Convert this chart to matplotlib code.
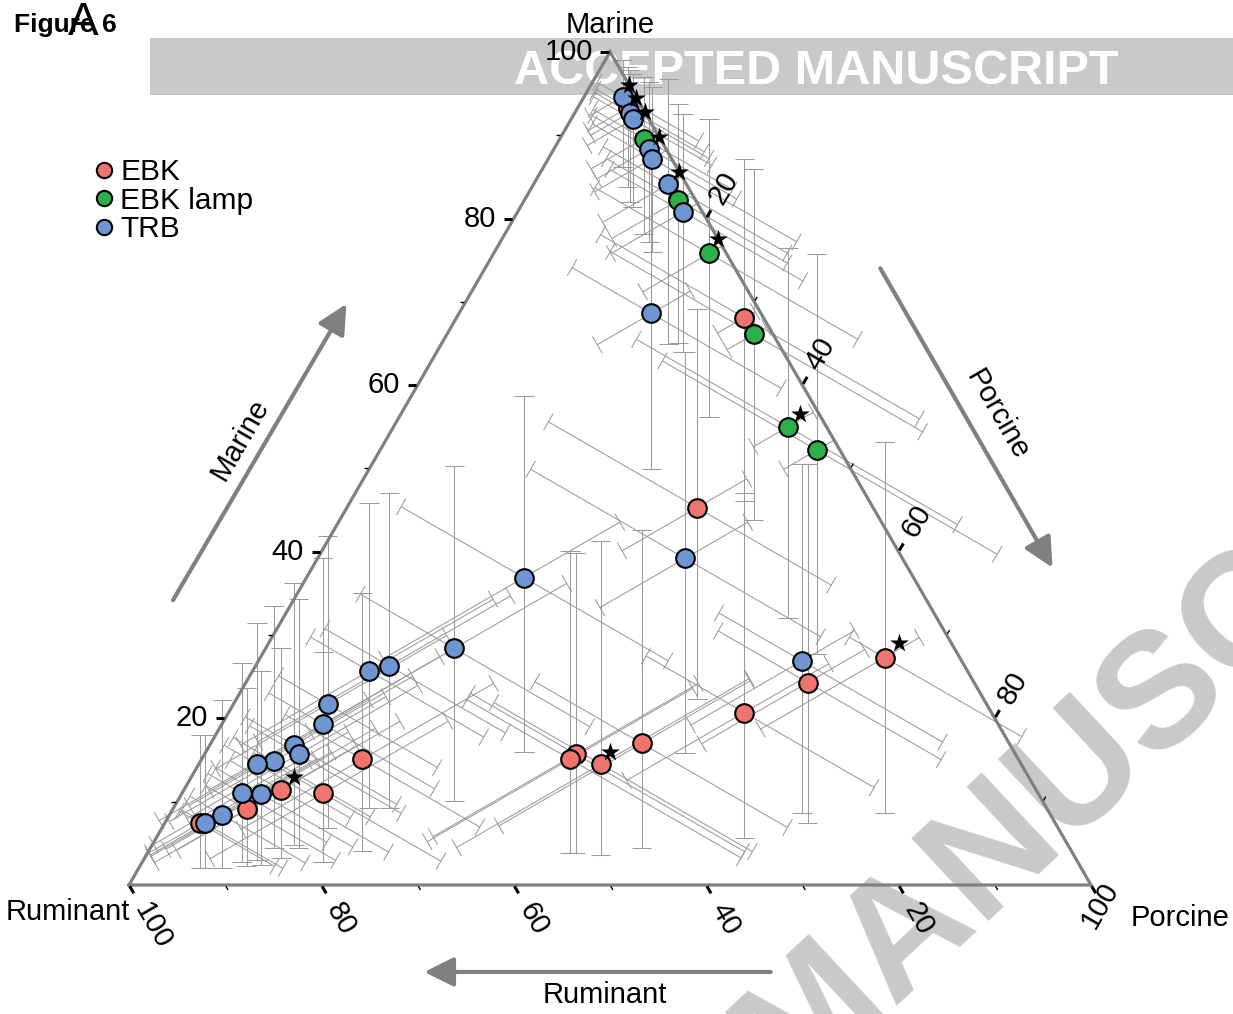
import numpy as np
import matplotlib
matplotlib.use("Agg")
import matplotlib.pyplot as plt
from matplotlib.patches import Rectangle
from matplotlib.lines import Line2D
import matplotlib.transforms as mtrans

plt.rcParams['font.family'] = ['Liberation Sans', 'DejaVu Sans']

# ---------------- data (percent) ----------------
group = (['EBK'] * 15) + (['EBK lamp'] * 6) + (['TRB'] * 24)

marine = [93.3, 68.1, 45.3, 15.7, 15.1, 14.5, 17.0, 20.7, 24.3, 27.3, 15.1, 11.4, 11.0, 9.1, 7.4,
          89.6, 82.2, 75.8, 66.1, 55.0, 52.2,
          94.6, 92.7, 91.9, 88.4, 87.2, 84.1, 80.8, 68.6, 39.2, 36.9, 28.4, 26.9,
          25.7, 26.3, 21.7, 19.3, 16.8, 15.7, 14.85, 14.5, 11.0, 10.9, 8.4, 7.4]
porcine = [5.2, 29.9, 36.4, 38.6, 38.3, 41.8, 44.8, 53.6, 58.4, 64.9, 16.7, 10.1, 14.7, 7.7, 3.7,
           8.7, 16.0, 22.4, 31.9, 41.0, 45.4,
           4.0, 5.7, 6.4, 9.9, 10.8, 14.0, 17.2, 20.0, 38.2, 22.6, 19.6, 56.5,
           12.1, 13.9, 9.8, 10.5, 8.75, 9.8, 7.65, 6.05, 6.25, 8.3, 5.5, 4.2]

marine_lo = [83.8, 46.1, 22.3, 3.8, 3.8, 3.6, 4.4, 5.7, 7.5, 8.7, 4.1, 3.2, 2.8, 2.3, 2.0,
             78.2, 65.1, 56.2, 43.8, 32.1, 27.7,
             86.2, 82.0, 81.4, 77.2, 76.0, 64.9, 64.0, 49.9, 15.8, 16.0, 10.1, 8.6,
             9.2, 9.2, 6.9, 2.8, 4.8, 4.5, 4.4, 3.0, 2.8, 2.4, 2.0, 2.0]
marine_hi = [98.2, 87.2, 69.1, 39.8, 40.1, 41.3, 42.6, 47.0, 50.5, 53.2, 35.1, 28.4, 28.0, 23.6, 18.0,
             97.0, 93.7, 91.9, 85.9, 76.4, 75.7,
             99.0, 97.8, 97.4, 96.4, 95.8, 96.8, 92.6, 88.6, 64.0, 58.7, 50.3, 50.5,
             45.9, 47.1, 41.9, 39.3, 36.2, 34.3, 33.5, 31.4, 26.6, 25.7, 22.2, 18.0]
porcine_lo = [0.8, 10.0, 15.8, 24.0, 24.0, 27.0, 30.0, 40.0, 46.0, 60.0, 6.0, 3.0, 5.0, 2.0, 0.8,
              1.7, 6.0, 6.6, 12.0, 20.0, 24.0,
              0.5, 0.8, 1.0, 2.0, 2.5, 5.0, 7.0, 9.0, 16.8, 5.6, 6.6, 45.0,
              4.0, 5.0, 3.0, 3.0, 2.0, 3.0, 2.0, 1.5, 1.5, 2.0, 1.0, 1.0]
porcine_hi = [15.8, 54.2, 55.0, 62.0, 62.0, 62.8, 65.0, 71.6, 76.9, 83.9, 33.0, 25.0, 31.0, 20.0, 14.0,
              21.0, 31.1, 43.0, 55.3, 64.5, 70.4,
              14.6, 16.7, 17.4, 22.0, 30.8, 30.5, 33.8, 38.0, 57.0, 42.6, 38.4, 76.0,
              28.0, 30.0, 25.0, 26.0, 23.0, 24.0, 21.0, 19.0, 18.0, 21.0, 17.0, 15.0]
ruminant_lo = [0.0, 0.5, 11.4, 28.7, 29.6, 23.1, 23.2, 14.0, 9.4, 3.0, 50.0, 62.0, 57.0, 68.0, 74.0,
               0.0, 0.0, 0.0, 0.3, 0.5, 0.0,
               0.0, 0.0, 0.0, 0.0, 0.0, 0.0, 0.0, 6.0, 13.9, 27.2, 36.4, 9.3,
               45.0, 43.0, 52.0, 54.0, 58.0, 58.0, 62.0, 64.0, 68.0, 65.0, 71.0, 73.0]
ruminant_hi = [7.0, 5.7, 28.7, 65.5, 66.4, 63.7, 58.0, 42.0, 32.0, 25.0, 85.0, 93.0, 90.0, 96.0, 96.0,
               9.0, 11.0, 11.0, 5.7, 8.8, 7.0,
               6.0, 7.0, 8.0, 9.0, 10.0, 11.0, 12.0, 18.9, 34.4, 60.0, 72.0, 32.0,
               80.0, 78.0, 84.0, 86.0, 89.0, 90.0, 92.0, 93.0, 95.0, 94.0, 96.0, 96.0]

star_marine = [96.0, 94.5, 92.8, 89.8, 85.6, 77.6, 56.5, 29.0, 16.0, 13.0]
star_porcine = [4.0, 5.5, 7.2, 10.2, 14.4, 22.4, 41.5, 65.5, 42.0, 10.6]

series_names = ['EBK', 'EBK lamp', 'TRB']
series_colors = ['#F0756E', '#2BB14A', '#6E96D2']
major_ticks = [20, 40, 60, 80, 100]
minor_ticks = [10, 30, 50, 70, 90]

# ---------------- figure ----------------
W, H, DPI = 1233, 1014, 100
fig = plt.figure(figsize=(W / DPI, H / DPI), dpi=DPI)
ax = fig.add_axes([0, 0, 1, 1])
S = 9.62  # pixels per percent unit
OX, OY = 129, 885
ax.set_xlim(-OX / S, (W - OX) / S)
ax.set_ylim(-(H - OY) / S, OY / S)
ax.axis('off')

SQ = np.sqrt(3) / 2


def tern(m, p):
    m = np.asarray(m, float)
    p = np.asarray(p, float)
    return p + m / 2, m * SQ


def along(m0, p0, comp, v):
    r0 = 100 - m0 - p0
    if comp == 'm':
        d = v - m0
        m, p = v, p0 - d / 2
    elif comp == 'p':
        d = v - p0
        m, p = m0 - d / 2, v
    else:
        d = v - r0
        m, p = m0 - d / 2, p0 - d / 2
    return tern(m, p)


# background watermark elements
fig.patches.append(Rectangle((150 / W, 1 - 95 / H), (W - 150) / W, 57 / H,
                             transform=fig.transFigure, facecolor='#C8C9CB',
                             edgecolor='none', zorder=-2))
fig.text(816 / W, 1 - 71 / H, 'ACCEPTED MANUSCRIPT', color='white', fontsize=35,
         fontweight='bold', ha='center', va='center', zorder=-1)
fig.text(792 / W, 1 - 1095 / H, 'MANUSCRIPT', color='#C8C9CB', fontsize=118,
         fontweight='bold', rotation=43, rotation_mode='anchor', ha='left',
         va='baseline', zorder=-1)
fig.text(14 / W, 1 - 25 / H, 'Figure 6', fontsize=19, fontweight='bold',
         ha='left', va='center')
fig.text(83 / W, 1 - 23 / H, 'A', fontsize=33, ha='center', va='center')

# error bars
bar_kw = dict(color='#9B9B9B', lw=0.75, zorder=1, solid_capstyle='butt')
CAP = 1.0
n = len(marine)
for i in range(n):
    m0, p0 = marine[i], porcine[i]
    for comp, lo, hi in (('m', marine_lo[i], marine_hi[i]),
                         ('p', porcine_lo[i], porcine_hi[i]),
                         ('r', ruminant_lo[i], ruminant_hi[i])):
        x1, y1 = along(m0, p0, comp, lo)
        x2, y2 = along(m0, p0, comp, hi)
        ax.plot([x1, x2], [y1, y2], **bar_kw)
        L = np.hypot(x2 - x1, y2 - y1)
        if L == 0:
            continue
        nx, ny = -(y2 - y1) / L, (x2 - x1) / L
        for xe, ye in ((x1, y1), (x2, y2)):
            ax.plot([xe - nx * CAP, xe + nx * CAP], [ye - ny * CAP, ye + ny * CAP], **bar_kw)

# triangle
tx, ty = tern([0, 0, 100, 0], [0, 100, 0, 0])
ax.plot(tx, ty, color='#808080', lw=2.3, zorder=2, solid_joinstyle='miter')

# ticks & labels
tick_kw = dict(color='black', lw=2.2, zorder=3, solid_capstyle='butt')
minor_kw = dict(color='black', lw=1.0, zorder=3, solid_capstyle='butt')
FS_T = 21
# marine (left edge), ticks horizontal to the left
for v in major_ticks:
    x, y = tern(v, 0)
    ax.plot([x - 1.0, x - 0.15], [y, y], **tick_kw)
    ax.text(x - 1.8, y, str(v), ha='right', va='center', fontsize=FS_T)
for v in minor_ticks:
    x, y = tern(v, 0)
    ax.plot([x - 0.6, x - 0.15], [y, y], **minor_kw)
# porcine (right edge), ticks up-right
ux, uy = 0.5, SQ
for v in major_ticks:
    x, y = tern(100 - v, v)
    if v < 100:
        ax.plot([x + 0.15 * ux, x + 1.0 * ux], [y + 0.15 * uy, y + 1.0 * uy], **tick_kw)
        ax.text(x + 2.0 * ux, y + 2.0 * uy, str(v), rotation=60, rotation_mode='anchor',
                ha='left', va='center', fontsize=FS_T)
    else:
        # the 100 label of the porcine axis sits just below its vertex
        ax.text(x + 0.9, y - 2.1, str(v), rotation=60, rotation_mode='anchor',
                ha='center', va='center', fontsize=FS_T)
for v in minor_ticks:
    x, y = tern(100 - v, v)
    ax.plot([x + 0.15 * ux, x + 0.6 * ux], [y + 0.15 * uy, y + 0.6 * uy], **minor_kw)
# ruminant (bottom edge), ticks down-right
ux, uy = 0.5, -SQ
for v in [0] + major_ticks:
    x, y = tern(0, 100 - v)
    ax.plot([x + 0.15 * ux, x + 1.0 * ux], [y + 0.15 * uy, y + 1.0 * uy], **tick_kw)
    if v > 0:
        ax.text(x + 2.4 * ux, y + 2.4 * uy, str(v), rotation=-60, rotation_mode='anchor',
                ha='left', va='center', fontsize=FS_T)
for v in minor_ticks:
    x, y = tern(0, 100 - v)
    ax.plot([x + 0.15 * ux, x + 0.6 * ux], [y + 0.15 * uy, y + 0.6 * uy], **minor_kw)

# vertex labels
ax.text(*tern(100, 0), 'Marine', ha='center', va='center', fontsize=21,
        transform=ax.transData + mtrans.ScaledTranslation(0, 27 / DPI, fig.dpi_scale_trans))
ax.text(0.1, -2.8, 'Ruminant', ha='right', va='center', fontsize=21)
ax.text(104.1, -3.4, 'Porcine', ha='left', va='center', fontsize=21)

# direction arrows
arr = dict(arrowstyle='-|>,head_length=0.9,head_width=0.45', color='#808080', lw=3,
           mutation_scale=20, shrinkA=0, shrinkB=0)
ax.annotate('', xy=(22.6, 60.4), xytext=(4.57, 29.6), arrowprops=arr)
ax.annotate('', xy=(96.0, 33.0), xytext=(78.1, 64.1), arrowprops=arr)
ax.annotate('', xy=(30.7, -9.04), xytext=(66.7, -9.04), arrowprops=arr)
ax.text(11.5, 46.3, 'Marine', rotation=60, ha='center', va='center', fontsize=21)
ax.text(90.3, 48.9, 'Porcine', rotation=-60, ha='center', va='center', fontsize=21)
ax.text(49.5, -11.4, 'Ruminant', ha='center', va='center', fontsize=21)

# points
g = np.array(group)
mx, my = tern(marine, porcine)
for name, col in zip(series_names, series_colors):
    sel = g == name
    ax.scatter(mx[sel], my[sel], s=180, c=col, edgecolors='black', linewidths=1.5, zorder=4)

sx, sy = tern(star_marine, star_porcine)
ax.scatter(sx, sy, marker='*', s=200, c='black', linewidths=0, zorder=5)

handles = [Line2D([], [], marker='o', ls='', markersize=11, markerfacecolor=c,
                  markeredgecolor='black', markeredgewidth=1.5) for c in series_colors]
ax.legend(handles, series_names, loc='upper left', bbox_to_anchor=(95 / W, 1 - 158 / H),
          bbox_transform=fig.transFigure, frameon=False, fontsize=21.5, handlelength=0.6,
          handletextpad=0.25, labelspacing=0.02, borderpad=0, borderaxespad=0)

fig.savefig('out.png', dpi=DPI)
